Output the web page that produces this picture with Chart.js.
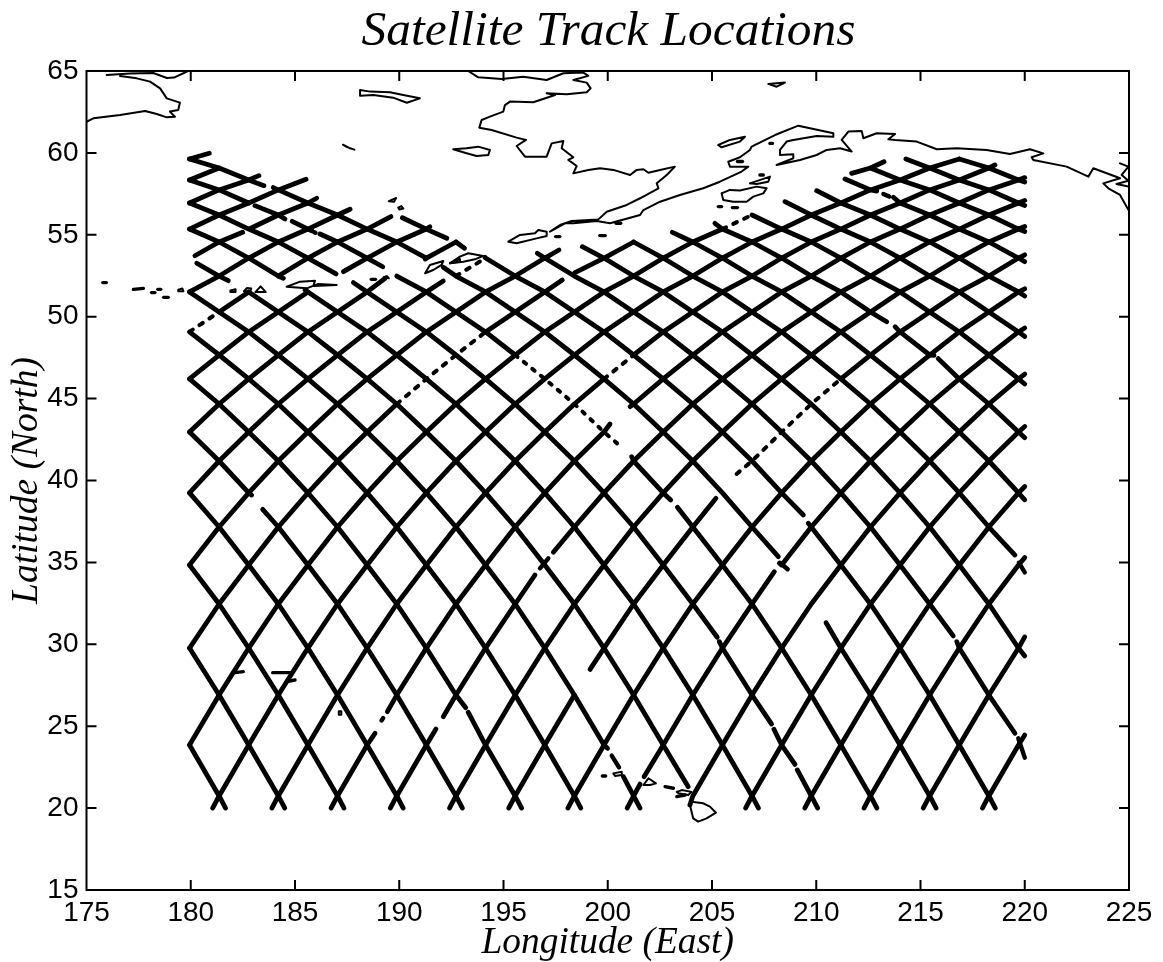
<!DOCTYPE html>
<html lang="en">
<head>
<meta charset="UTF-8">
<title>Satellite Track Locations</title>
<script src="https://cdn.jsdelivr.net/npm/chart.js"></script>
<style>
  body { margin: 0; background: #fff; }
  canvas { display: block; }
</style>
</head>
<body>
<canvas id="myChart" width="1163" height="962"></canvas>
<script>
// longitude of each crossing column of the track lattice
const crossLons = [179.94, 181.36, 182.78, 184.20, 185.62, 187.04, 188.46, 189.88, 191.30, 192.72,
  194.14, 195.56, 196.98, 198.40, 199.82, 201.24, 202.66, 204.08, 205.50, 206.92,
  208.34, 209.76, 211.18, 212.60, 214.02, 215.44, 216.86, 218.28, 219.70];
// latitude of each crossing level, bottom to top
const crossLats = [20.74, 23.85, 26.90, 29.77, 32.46, 34.84, 37.16, 39.24, 41.19, 42.96,
  44.67, 46.20, 47.66, 49.07, 50.29, 51.51, 52.48, 53.58, 54.56, 55.35,
  56.21, 56.94, 57.74, 58.35, 59.08, 59.63, 60.30];

// runs: [track, first column, last column, point before, point after]
const ascRuns = [
  [-25, 0, 0, null, [180.89, 59.98]], [-23, 0, 1], [-21, 0, 2, null, [183.27, 58.61]],
  [-19, 0, 3, null, [185.53, 58.39]], [-17, 1, 1, [180.20, 53.72], [182.49, 55.15]],
  [-17, 3, 4, [182.88, 55.40], [186.04, 57.23]], [-15, 0, 5, null, [187.64, 56.56]],
  [-13, 1, 2], [-13, 3, 6, null, [189.60, 56.11]], [-11, 0, 4],
  [-11, 6, 8, [187.32, 52.75], [191.47, 55.49]], [-9, 0, 6, null, [189.32, 52.34]],
  [-9, 8, 9, [191.24, 53.52]], [-7, 0, 8, null, [192.11, 52.18]], [-5, 0, 12, null, [197.66, 54.07]],
  [-3, 0, 7], [-3, 10, 12, null, [197.82, 52.24]], [-3, 14, 15, [198.43, 52.69]],
  [-1, 0, 18], [-1, 23, 23, [211.70, 58.75], [213.25, 59.46]], [1, 1, 26, [181.05, 20]],
  [3, 3, 14, [183.89, 20]], [3, 15, 27, null, [218.57, 59.26]],
  [5, 5, 6, [186.73, 20], [188.84, 24.57]], [5, 7, 14, [189.43, 25.89], [200.11, 43.45]],
  [5, 15, 28, [201.07, 44.51], [220, 58.49]], [7, 7, 8, [189.57, 20], [191.76, 24.83]],
  [7, 9, 11, [192.11, 25.58], [196.51, 34.23]], [7, 13, 28, [197.39, 35.62], [220, 57.10]],
  [9, 9, 28, [192.41, 20], [220, 55.51]], [11, 11, 13, [195.25, 20]],
  [11, 14, 17, [199.15, 28.47], [205.19, 38.91]], [11, 22, 28, null, [220, 53.78]],
  [13, 13, 28, [198.09, 20], [220, 51.70]], [15, 15, 15, [200.93, 20], [201.55, 21.47]],
  [15, 16, 19, [201.74, 21.92], [207.99, 34.43]], [15, 20, 28, [208.23, 34.95], [220, 49.31]],
  [17, 17, 28, [203.94, 20.19], [220, 46.50]], [19, 19, 28, [206.61, 20], [220, 43.30]],
  [21, 21, 28, [209.45, 20], [220, 39.63]], [23, 23, 28, [212.29, 20], [220, 35.29]],
  [25, 25, 28, [215.13, 20], [220, 30.45]], [27, 27, 28, [217.97, 20], [220, 24.46]]
];
const ascSparse = [[-13, 0, 1], [-7, 9, 10], [-3, 7, 10], [-1, 18, 19], [3, 14, 15], [11, 19, 22, [206.18, 40.40]]];

const descRuns = [
  [1, 0, 1, null, [181.67, 20]], [3, 0, 3, null, [184.51, 20]], [5, 0, 5, null, [187.35, 20]],
  [7, 0, 7, null, [190.19, 20]], [9, 0, 2, null, [182.92, 39.11]], [9, 3, 9, [183.45, 38.24], [193.03, 20]],
  [11, 0, 9, null, [193.19, 26.13]], [11, 10, 11, [193.31, 25.85], [195.87, 20]],
  [13, 0, 13, null, [198.71, 20]], [15, 0, 14, null, [199.99, 23.65]],
  [15, 15, 15, [200.75, 21.92], [201.55, 20]], [17, 1, 1, [180.29, 53.26], [181.80, 52.20]],
  [17, 2, 16, null, [203.86, 21.31]], [19, 0, 3, null, [184.44, 52.34]],
  [19, 4, 19, [185.48, 51.63], [207.23, 20]], [21, 0, 4, null, [186.97, 52.61]],
  [21, 6, 17, [187.80, 52.08], [205.25, 30.43]], [21, 18, 19, [205.35, 30.16], [207.86, 25.13]],
  [21, 20, 20, [207.97, 24.81], [208.98, 22.67]], [21, 21, 21, [209.09, 22.33], [210.07, 20]],
  [23, 0, 2], [23, 3, 3, [183.08, 56.78], [184.52, 55.96]], [23, 4, 4, [184.87, 55.82], [185.80, 55.25]],
  [23, 5, 6, [186.20, 55.05], [189.21, 53.05]], [23, 7, 11], [23, 15, 16, [201.15, 41.45], [203.02, 38.81]],
  [23, 17, 23, [203.34, 38.36], [212.91, 20]], [25, 0, 2, null, [183.51, 58.00]],
  [25, 3, 8, [183.96, 57.88]], [25, 9, 19, [192.11, 53.02], [208.18, 35.35]],
  [25, 22, 25, [210.47, 31.32], [215.75, 20]], [27, 8, 8, [190.15, 56.04], [192.28, 54.79]],
  [27, 9, 9, null, [193.13, 54.18]], [27, 10, 20, [194.11, 53.63], [209.38, 37.89]],
  [27, 21, 27, [209.62, 37.39], [218.59, 20]], [29, 12, 25, [196.62, 53.87], [216.57, 30.51]],
  [29, 26, 27, [216.74, 30.16], [219.53, 24.57]], [31, 14, 28, [198.78, 54.27], [220, 29.29]],
  [33, 15, 27, null, [219.53, 35.45]], [35, 17, 28, [203.10, 55.15], [220, 38.82]],
  [37, 18, 23, [205.14, 55.70], [213.38, 49.69]], [37, 24, 25, [213.78, 49.39], [215.65, 47.64]],
  [37, 26, 28, [215.85, 47.44], [220, 42.61]], [39, 19, 28, null, [220, 45.89]],
  [41, 21, 28, [208.50, 57.02], [220, 48.79]], [43, 22, 28, [210.02, 57.69], [220, 51.26]],
  [45, 23, 23, [211.38, 58.41], [212.90, 57.67]], [45, 24, 28, [213.70, 57.29], [220, 53.36]],
  [47, 23, 28, null, [220, 55.20]], [49, 25, 28, [214.30, 59.63], [220, 56.79]],
  [51, 26, 28, null, [220, 58.22]]
];
const descSparse = [[23, 11, 14, null, [200.72, 41.97]]];

// short bits of track left between the gaps
const trackBits = [
  [[189.15, 25.35], [189.23, 25.50]], [[196.75, 34.64], [197.15, 35.25]],
  [[200.19, 23.20], [200.54, 22.49]], [[185.93, 55.15], [185.98, 55.12]],
  [[208.26, 34.98], [208.63, 34.58]], [[219.69, 24.26], [220, 23.08]],
  [[219.72, 34.98], [220, 34.39]], [[213.22, 57.49], [213.50, 57.33]]
];

const siberiaCoast = [
  [[175.97, 64.76], [177.09, 64.85], [178.20, 64.88], [178.86, 64.57], [179.20, 64.60], [179.87, 65]],
  [[176.61, 64.69], [177.41, 64.55], [178.05, 64.35], [178.53, 63.94], [178.85, 63.33], [179.48, 63.07],
   [179.40, 62.62], [179.00, 62.52], [179.24, 62.21], [178.85, 62.17], [178.37, 62.37], [177.81, 62.56],
   [176.61, 62.31], [175.33, 62.11], [175, 61.90]]
];
const alaskaCoast = [
  [[193.31, 65], [193.79, 64.61], [194.91, 64.51], [195.95, 64.65], [197.07, 64.45], [197.87, 64.86],
   [198.83, 64.90], [199.07, 64.70], [198.35, 64.45], [198.99, 64.29], [199.18, 63.94], [198.99, 63.70],
   [198.03, 63.58], [197.07, 63.64], [197.47, 63.53], [196.43, 63.09], [195.31, 63.13], [195.07, 62.92],
   [194.99, 62.52], [194.35, 62.21], [193.95, 62.01], [193.84, 61.54], [194.43, 61.40], [195.63, 60.93],
   [196.08, 60.79], [195.63, 60.42], [196.03, 59.77], [197.07, 59.77], [197.31, 60.58], [197.87, 60.73],
   [197.79, 60.28], [198.35, 59.73], [198.11, 59.57], [198.51, 59.20], [198.35, 58.75], [199.07, 58.96],
   [199.63, 59.06], [200.27, 58.96], [201.07, 58.65], [201.39, 58.96], [201.71, 59.00], [201.95, 58.79],
   [202.51, 58.96], [203.22, 59.16], [202.83, 58.65], [202.35, 58.14], [202.43, 57.84], [201.55, 57.23],
   [200.91, 56.82], [199.95, 56.41], [199.55, 55.94], [198.27, 55.84], [197.71, 55.60], [197.23, 55.19],
   [197.95, 55.70], [198.35, 55.70], [199.47, 55.84], [200.11, 55.70], [201.55, 56.21], [201.71, 56.51],
   [202.51, 57.02], [203.46, 57.43], [204.58, 57.84], [205.38, 58.24], [206.42, 58.86], [206.74, 59.16],
   [205.86, 59.16], [205.78, 59.46], [206.34, 59.73], [206.82, 60.18], [206.90, 60.38], [208.02, 61.09],
   [209.14, 61.66], [209.70, 61.50], [210.82, 61.20], [210.82, 60.99], [210.02, 61.03], [208.90, 60.79],
   [208.58, 60.69], [208.26, 60.18], [208.26, 59.87], [208.90, 59.91], [208.90, 59.67], [208.10, 59.26],
   [209.22, 59.57], [210.02, 59.87], [210.50, 60.18], [211.14, 60.28], [211.70, 60.08], [211.22, 60.79],
   [211.54, 61.30], [212.18, 61.34], [212.26, 60.89], [212.90, 61.20], [213.78, 61.15], [213.46, 60.83],
   [213.78, 60.79], [214.82, 60.69], [215.78, 60.22], [216.74, 60.28], [218.17, 60.18], [219.29, 59.93],
   [220.25, 60.22], [220.89, 59.97], [220.33, 59.73], [220.41, 59.57], [222.01, 59.16], [223.05, 58.55],
   [223.29, 59.06], [224.57, 58.45], [223.77, 58.14], [224.01, 57.84], [224.57, 57.43], [224.97, 56.52]],
  [[224.57, 59.36], [224.97, 59.16], [224.65, 58.65], [224.97, 58.30], [224.40, 58.10], [224.97, 57.95]]
];
const islandCoast = [
  [[188.12, 63.84], [188.60, 63.74], [189.56, 63.70], [190.19, 63.53], [190.99, 63.33], [190.36, 63.06],
   [189.71, 63.37], [188.76, 63.53], [188.12, 63.49], [188.12, 63.84]],
  [[187.30, 60.50], [187.60, 60.30], [187.85, 60.20], [187.50, 60.35], [187.30, 60.50]],
  [[192.59, 60.22], [193.23, 60.28], [193.79, 60.38], [194.35, 60.18], [194.27, 59.87], [193.71, 59.81],
   [193.23, 59.98], [192.59, 60.22]],
  [[189.50, 57.05], [189.85, 57.25], [189.75, 57.02], [189.50, 57.05]],
  [[189.95, 56.65], [190.10, 56.75], [190.20, 56.60], [190.00, 56.55], [189.95, 56.65]],
  [[205.46, 57.53], [205.86, 57.74], [206.34, 57.70], [207.14, 57.94], [207.62, 57.84], [207.46, 57.53],
   [206.98, 57.33], [206.66, 57.02], [206.02, 57.02], [205.54, 57.13], [205.46, 57.53]],
  [[206.82, 58.14], [207.78, 58.55], [207.70, 58.24], [207.14, 58.10], [206.82, 58.14]],
  [[205.30, 60.48], [205.86, 60.79], [206.58, 60.99], [206.34, 60.69], [205.46, 60.34], [205.30, 60.48]],
  [[207.70, 64.21], [208.50, 64.29], [208.10, 64.04], [207.70, 64.21]],
  [[195.23, 54.58], [195.79, 54.99], [196.51, 55.09], [196.67, 55.29], [197.07, 55.19], [197.07, 54.93],
   [196.59, 54.78], [195.63, 54.48], [195.23, 54.58]],
  [[192.43, 53.26], [192.91, 53.67], [193.31, 53.87], [194.03, 53.71], [193.63, 53.50], [193.07, 53.36], [192.43, 53.26]],
  [[191.24, 52.65], [191.47, 53.16], [192.11, 53.40], [192.03, 53.16], [191.63, 52.85], [191.24, 52.65]],
  [[192.43, 53.26], [192.91, 53.52], [192.91, 53.36], [192.43, 53.26]],
  [[184.60, 51.83], [185.24, 52.14], [185.96, 52.20], [185.88, 51.88], [187.00, 51.94], [186.12, 52.00], [185.56, 51.73], [184.60, 51.83]],
  [[179.40, 51.65], [179.60, 51.72], [179.65, 51.55], [179.42, 51.55], [179.40, 51.65]],
  [[181.90, 51.60], [182.15, 51.68], [182.15, 51.50], [181.92, 51.50], [181.90, 51.60]],
  [[182.55, 51.55], [182.70, 51.75], [182.90, 51.72], [182.85, 51.52], [182.55, 51.55]],
  [[183.10, 51.50], [183.35, 51.85], [183.60, 51.50], [183.10, 51.50]],
  [[189.25, 52.40], [189.40, 52.48], [189.50, 52.35], [189.25, 52.40]],
  [[204.02, 20.39], [204.58, 20.29], [204.90, 20.09], [205.19, 19.72], [204.74, 19.37], [204.34, 19.17],
   [204.10, 19.37], [204.02, 19.78], [203.94, 20.19], [204.02, 20.39]],
  [[200.27, 22.12], [200.67, 22.22], [200.67, 22.02], [200.35, 21.96], [200.27, 22.12]],
  [[201.71, 21.41], [201.95, 21.82], [202.31, 21.51], [202.03, 21.41], [201.71, 21.41]],
  [[203.31, 20.99], [203.55, 21.10], [204.02, 20.99], [203.86, 20.80], [203.39, 20.90], [203.31, 20.99]],
  [[187.10, 25.70], [187.22, 25.70], [187.22, 25.92], [187.10, 25.92], [187.10, 25.70]]
];
// islets too small to show an outline
const isletDashes = [
  [[175.78, 52.08], [175.95, 52.08]], [[177.25, 51.67], [177.73, 51.73]], [[178.12, 51.47], [178.28, 51.47]],
  [[178.42, 51.67], [178.56, 51.67]], [[178.70, 51.18], [178.92, 51.18]], [[188.66, 52.28], [188.86, 52.28]],
  [[197.50, 54.89], [197.70, 54.89]], [[199.62, 54.95], [199.88, 54.95]], [[200.40, 55.70], [200.62, 55.70]],
  [[205.30, 56.72], [205.46, 56.72]], [[205.98, 56.66], [206.22, 56.66]], [[207.30, 58.65], [207.46, 58.65]],
  [[206.22, 59.47], [206.46, 59.47]], [[207.78, 60.58], [207.90, 60.58]], [[182.12, 28.27], [182.52, 28.33]],
  [[183.93, 28.27], [184.84, 28.27]], [[184.60, 27.72], [185.00, 27.82]], [[199.74, 21.96], [199.90, 21.96]],
  [[202.75, 21.31], [203.15, 21.21]], [[203.31, 20.70], [203.71, 20.80]]
];

const tickValues = [15, 20, 25, 30, 35, 40, 45, 50, 55, 60, 65];
const lonTicks = [175, 180, 185, 190, 195, 200, 205, 210, 215, 220, 225];

function runPoints(dir, run) {
  const [key, from, to, before, after] = run;
  const pts = [];
  if (before) pts.push({ x: before[0], y: before[1] });
  for (let c = from; c <= to; c++) {
    const n = dir === 'asc' ? c - key : key - c;
    pts.push({ x: crossLons[c], y: crossLats[n] });
  }
  if (after) pts.push({ x: after[0], y: after[1] });
  return pts;
}
function toPoints(path) {
  return path.map(p => ({ x: p[0], y: p[1] }));
}
function lineSet(data, width, dash) {
  return {
    data: data, showLine: true, pointRadius: 0, borderColor: '#000', tension: 0,
    borderWidth: width, borderCapStyle: 'round', borderJoinStyle: 'round', borderDash: dash || []
  };
}

const datasets = [];
siberiaCoast.concat(alaskaCoast, islandCoast).forEach(p => datasets.push(lineSet(toPoints(p), 2)));
isletDashes.forEach(p => datasets.push(lineSet(toPoints(p), 3.4)));
ascRuns.forEach(r => datasets.push(lineSet(runPoints('asc', r), 4.8)));
descRuns.forEach(r => datasets.push(lineSet(runPoints('desc', r), 4.8)));
ascSparse.forEach(r => datasets.push(lineSet(runPoints('asc', r), 4, [4, 8])));
descSparse.forEach(r => datasets.push(lineSet(runPoints('desc', r), 4, [3, 8])));
trackBits.forEach(p => datasets.push(lineSet(toPoints(p), 4.4)));

// box round the plot with the ticks pointing inwards
const insideTicks = {
  id: 'insideTicks',
  afterLayout(chart) {
    // the title sits over the plot, not over the whole page
    chart.titleBlock.left += 44;
    chart.titleBlock.right += 44;
  },
  afterDatasetsDraw(chart) {
    const { ctx, chartArea: a, scales } = chart;
    ctx.save();
    ctx.strokeStyle = '#000';
    ctx.lineWidth = 2;
    ctx.strokeRect(a.left, a.top, a.right - a.left, a.bottom - a.top);
    ctx.beginPath();
    lonTicks.slice(1, -1).forEach(v => {
      const x = scales.x.getPixelForValue(v);
      ctx.moveTo(x, a.bottom); ctx.lineTo(x, a.bottom - 10);
      ctx.moveTo(x, a.top); ctx.lineTo(x, a.top + 10);
    });
    tickValues.slice(1, -1).forEach(v => {
      const y = scales.y.getPixelForValue(v);
      ctx.moveTo(a.left, y); ctx.lineTo(a.left + 10, y);
      ctx.moveTo(a.right, y); ctx.lineTo(a.right - 10, y);
    });
    ctx.stroke();
    ctx.restore();
  }
};

new Chart(document.getElementById('myChart'), {
  type: 'scatter',
  data: { datasets: datasets },
  plugins: [insideTicks],
  options: {
    responsive: false,
    animation: false,
    layout: { padding: { right: 34, left: 0, top: 0, bottom: 0 } },
    plugins: {
      legend: { display: false },
      tooltip: { enabled: false },
      title: {
        display: true,
        text: 'Satellite Track Locations',
        color: '#000',
        font: { family: 'Liberation Serif', style: 'italic', size: 49.4, weight: 'normal', lineHeight: 1.2 },
        padding: { top: 2, bottom: 9.7 }
      }
    },
    scales: {
      x: {
        type: 'linear', min: 175, max: 225,
        grid: { display: false }, border: { display: false },
        afterBuildTicks(s) { s.ticks = lonTicks.map(v => ({ value: v })); },
        afterFit(s) { s.height = 72; },
        ticks: { color: '#000', maxRotation: 0, padding: -2, font: { family: 'Liberation Sans', size: 28 } },
        title: {
          display: true, text: 'Longitude (East)', color: '#000', padding: 0,
          font: { family: 'Liberation Serif', style: 'italic', size: 37.4, lineHeight: 1 }
        }
      },
      y: {
        type: 'linear', min: 15, max: 65,
        grid: { display: false }, border: { display: false },
        afterBuildTicks(s) { s.ticks = tickValues.map(v => ({ value: v })); },
        afterFit(s) { s.width = 86.5; },
        ticks: { color: '#000', padding: 0, font: { family: 'Liberation Sans', size: 28 } },
        title: {
          display: true, text: 'Latitude (North)', color: '#000', padding: { top: 8, bottom: 0 },
          font: { family: 'Liberation Serif', style: 'italic', size: 37.5, lineHeight: 1 }
        }
      }
    }
  }
});
</script>
</body>
</html>
